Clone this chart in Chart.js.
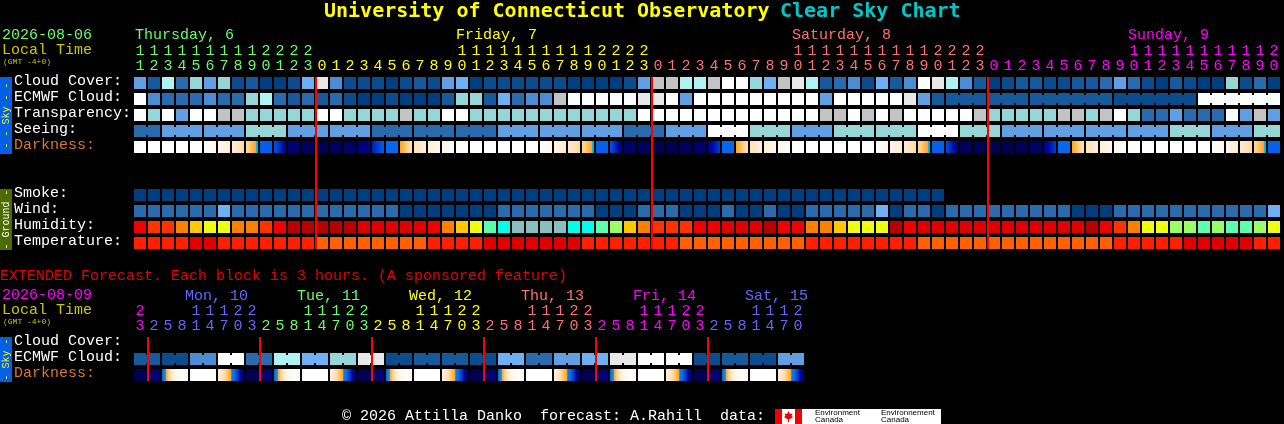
<!DOCTYPE html>
<html><head><meta charset="utf-8">
<style>html,body{margin:0;padding:0;background:#000;overflow:hidden}canvas{display:block}</style>
<script src="https://cdn.jsdelivr.net/npm/chart.js@4"></script>
</head><body><canvas id="c" width="1284" height="424"></canvas>
<script>
// ---- hour axes ----
const mainHours=[11,12,13,14,15,16,17,18,19,20,21,22,23,
0,1,2,3,4,5,6,7,8,9,10,11,12,13,14,15,16,17,18,19,20,21,22,23,
0,1,2,3,4,5,6,7,8,9,10,11,12,13,14,15,16,17,18,19,20,21,22,23,
0,1,2,3,4,5,6,7,8,9,10,11,12,13,14,15,16,17,18,19,20];
const extHours=[23,2,5,8,11,14,17,20,23,2,5,8,11,14,17,20,23,2,5,8,11,14,17,20,23,2,5,8,11,14,17,20,23,2,5,8,11,14,17,20,23,2,5,8,11,14,17,20];
const dayBreaks=[13,37,61];
const extDayBreaks=[1,9,17,25,33,41];
// ---- sky rows, as class numbers of the sky palette ----
const cloudCover=[5,2,8,3,7,5,7,1,2,0,0,1,6,10,4,1,1,1,0,1,2,
1,5,6,0,1,1,1,1,1,1,0,0,0,0,1,5,
9,9,8,8,9,11,11,7,6,9,10,8,2,3,4,
1,6,2,4,11,10,8,4,2,
0,1,2,2,1,1,2,2,3,5,3,1,0,2,1,0,0,7,1,3,0];
const ecmwfCloud=[11,4,3,3,3,4,3,3,7,8,3,2,3,2,3,1,0,0,1,0,0,
0,2,7,7,2,6,3,4,4,9,11,11,11,11,11,10,
10,11,5,11,11,11,11,11,11,11,11,11,5,11,11,
11,11,11,10,5,2,
2,2,2,2,2,2,2,2,2,2,2,2,1,1,1,1,1,1,11,11,11,11,11,11];
const ecmwfSpans=[1,1,1,1,1,1,1,1,1,1,1,1,1,1,1,1,1,1,1,1,1,1,1,1,1,1,1,1,1,1,1,1,1,1,1,1,1,1,1,1,1,1,1,1,1,1,1,1,1,1,1,1,1,1,1,1,1,1,3,3,6,6,6];
const transparency=[11,7,11,5,11,11,9,9,7,7,7,7,7,11,11,7,7,7,7,9,7,
7,11,11,7,7,7,7,7,7,7,7,7,7,7,7,
11,11,11,11,11,11,11,11,11,11,11,11,11,9,9,11,
9,11,9,11,11,11,11,11,9,
7,7,7,7,7,9,9,7,9,11,7,3,3,5,3,3,3,11,5,9,5];
const seeingLevels=[3,5,5,7,5,5,3,3,3,5,5,5,3,5,11,7,5,7,7,11,7,5,5,5,5,7,5,7];
const seeingSpans=[2,3,3,3,3,3,3,3,3,3,3,3,3,3,3,3,3,3,3,3,3,3,3,3,3,3,3,2];
const darknessStart=[0,0,0,0,0,0,1,2,3.5,7.4,7.8,11.5,12.5,13,12.5,12,11.3,9.5,7,5.2,3,2,1,
0,0,0,0,0,0,0,1,2.5,3.5,7.3,7.8,12,12.5,13,13,12.5,12,11,7,5.2,3,2,1,
0,0,0,0,0,0,0,1,2.3,3.5,7.3,8,12.5,12.7,13,13,12.7,12.3,11,7,5.2,3,2,1,
0,0,0,0,0,0,0,1,2.3,3.5,7.3];
const darknessEnd=[0,0,0,0,0,1,2,3.5,5.4,7.4,10.5,12,12.5,13,12.5,12,11.3,7.5,7,3,2,1,0.3,
0,0,0,0,0,0,1,2.5,3.5,5.4,7.3,11,12,12.5,13,13,12.5,12,8.5,7,3,2,1,0.3,
0,0,0,0,0,0,1,2.3,3.4,5.4,7.3,11,12.5,12.7,13,13,12.7,12.3,8.5,7,3,2,1,0.3,
0,0,0,0,0,0,1,2.3,3.4,5.4,7.3];
// ---- ground rows ----
const smoke=[0,0,0,0,0,0,0,0,0,0,0,0,0,0,0,0,0,0,0,0,0,0,0,0,0,0,0,0,0,0,0,0,0,0,0,0,0,0,0,0,0,0,0,0,0,0,0,0,0,0,0,0,0,0,0,0,0,0];
const wind=[3,3,3,3,3,3,6,3,3,3,3,3,3,3,3,3,3,3,3,0,0,0,0,0,0,0,3,3,3,3,3,3,3,0,0,0,3,3,3,0,0,0,3,0,0,3,0,0,3,3,3,3,3,6,0,3,3,0,3,3,3,3,3,3,3,3,3,0,0,0,3,3,3,3,3,3,3,3,3,3,3,6];
const humidity=[90,85,85,80,75,70,70,80,80,85,90,100,100,100,100,100,95,95,95,95,95,90,
80,75,70,60,55,50,50,50,50,55,55,60,65,75,80,85,85,85,90,90,95,95,95,100,90,90,80,80,75,70,70,70,
100,90,95,95,95,95,95,95,95,95,95,95,95,95,100,90,85,80,70,70,65,65,60,65,60,60,65,70];
const temperature=[25,25,25,25,30,30,25,25,25,25,25,25,25,20,20,20,20,20,20,20,20,25,25,25,25,30,30,30,30,30,30,30,25,25,25,25,25,25,25,
20,20,20,20,20,20,20,20,20,25,25,25,25,25,25,25,25,20,20,20,20,20,20,20,20,20,20,20,20,20,20,25,25,25,25,25,30,30,30,30,30,25,25];
// ---- extended rows: one value per pair of columns ----
const extEcmwf=[2,1,4,11,3,8,6,7,10,1,2,2,1,6,3,5,6,10,11,11,1,2,1,5];
const extDarkLeft=[13,7,0,1.5,13,7,0,1.5,13,7,0,1.5,13,7,0,1.5,13,7,0,1.5,13,7,0,1.5];
const extDarkMid=[13,1,0,5.2,13,1,0,5.2,13,1,0,5.2,13,1,0,5.2,13,1,0,5.2,13,1,0,5.2];
const extDarkRight=[11,0,0,12,11,0,0,12,11,0,0,12,11,0,0,12,11,0,0,12,11,0,0,12];
// ---- palettes and text ----
const skyPalette=['#003f7f','#0c4c8c','#175a9c','#2a6bae','#4c8cd2','#5f9fe2','#6fb0f5','#96d6d6','#aef2f2','#c3c3c3','#e8e8e8','#ffffff'];
const humidityPalette={50:'#88c0c0',55:'#00ffe8',60:'#5cffb0',65:'#99ff66',70:'#eeff10',75:'#ffc800',80:'#ff8000',85:'#ff3300',90:'#f00000',95:'#e00000',100:'#b80000'};
const temperaturePalette={20:'#ff6000',25:'#ff2000',30:'#e00000'};
const warmStops=['#ffffff','#fff6ea','#ffeed6','#ffe2b8','#ffcd80','#ffa726'];
const coolStops={5:'#00c8e0',6:'#0a78f0',7:'#0868ec',8:'#0050e0',9:'#0030c0',10:'#0008a0',11:'#000088',12:'#000068',13:'#000050'};
const C={green:'#66ff66',yellow:'#ffff00',salmon:'#ff7070',magenta:'#ff00ff',blue:'#6666ff',olive:'#c8c800',cyan:'#00c8c8',white:'#ffffff',orange:'#d87830',red:'#e80000'};
const mainHourColors=mainHours.map((_,i)=>i<13?C.green:i<37?C.yellow:i<61?C.salmon:C.magenta);
const extHourColors=extHours.map((_,i)=>i<1?C.magenta:i<9?C.blue:i<17?C.green:i<25?C.yellow:i<33?C.salmon:i<41?C.magenta:C.blue);
const rowNames=['Cloud Cover:','ECMWF Cloud:','Transparency:','Seeing:','Darkness:','Smoke:','Wind:','Humidity:','Temperature:','Cloud Cover:','ECMWF Cloud:','Darkness:'];
const rowPos=[0,1,2,3,4,7,8,9,10,16.25,17.25,18.25];
const R={cloud:0,ecmwf:1,trans:2,seeing:3,dark:4,smoke:7,wind:8,hum:9,temp:10,xCloud:16.25,xEcmwf:17.25,xDark:18.25};
const MONO='"Liberation Mono",monospace';
const texts=[
 ['University of Connecticut Observatory',324,12,'bold 20px "DejaVu Sans Mono"',C.yellow],
 ['Clear Sky Chart',780,12,'bold 20px "DejaVu Sans Mono"',C.cyan],
 ['2026-08-06',2,35,'15px '+MONO,C.green],['Local Time',2,50,'15px '+MONO,C.olive],['(GMT -4+0)',3,62,'8px '+MONO,C.olive],
 ['Thursday, 6',135,35,'15px '+MONO,C.green],['Friday, 7',456,35,'15px '+MONO,C.yellow],['Saturday, 8',792,35,'15px '+MONO,C.salmon],['Sunday, 9',1128,35,'15px '+MONO,C.magenta],
 ['EXTENDED Forecast. Each block is 3 hours. (A sponsored feature)',0,276,'15px '+MONO,C.red],
 ['2026-08-09',2,295,'15px '+MONO,C.magenta],['Local Time',2,310,'15px '+MONO,C.olive],['(GMT -4+0)',3,322,'8px '+MONO,C.olive],
 ['Mon, 10',185,296,'15px '+MONO,C.blue],['Tue, 11',297,296,'15px '+MONO,C.green],['Wed, 12',409,296,'15px '+MONO,C.yellow],['Thu, 13',521,296,'15px '+MONO,C.salmon],['Fri, 14',633,296,'15px '+MONO,C.magenta],['Sat, 15',745,296,'15px '+MONO,C.blue],
 ['\u00a9 2026 Attilla Danko  forecast: A.Rahill  data:',342,416,'15px '+MONO,C.white]
];
const sideBars=[[77,154,'#0060e8','- - Sky - -',C.yellow],[189,250,'#4e6b00','- Ground -',C.white],[337,382,'#0060e8','- Sky -',C.yellow]];
// ---- helpers ----
const half=0.375, notch=0.25;
function hex(h){return [parseInt(h.slice(1,3),16),parseInt(h.slice(3,5),16),parseInt(h.slice(5,7),16)];}
function mix(a,b,t){const A=hex(a),B=hex(b);return 'rgb('+A.map((v,i)=>Math.round(v+(B[i]-v)*t)).join(',')+')';}
function darkColor(d){
 if(d<5){const f=Math.floor(d);return mix(warmStops[f],warmStops[f+1],d-f);}
 if(d<5.15)return warmStops[5];
 const c=Math.max(5,d),f=Math.min(12,Math.floor(c));return mix(coolStops[f],coolStops[f+1],c-f);
}
function rowData(values,row){return values.map((v,i)=>({x:i,y:[row-half,row+half]}));}
function bridges(spans,row,offset){const out=[];let c=offset||0;spans.forEach(s=>{for(let k=0;k<s-1;k++)out.push({x:c+k+0.5,y:[row-notch,row+notch]});c+=s;});return out;}
function expand(levels,spans){const out=[];levels.forEach((v,i)=>{for(let k=0;k<spans[i];k++)out.push(v);});return out;}
function bar(data,color,xAxisID,thick){return {type:'bar',data,backgroundColor:color,xAxisID:xAxisID||'x',yAxisID:'y',barThickness:thick||12,inflateAmount:0,borderWidth:0};}
const seeing=expand(seeingLevels,seeingSpans);
const skyCol=a=>a.map(v=>skyPalette[v]);
function firstSpanColor(levels,spans){const out=[];levels.forEach((v,i)=>{for(let k=0;k<spans[i]-1;k++)out.push(skyPalette[v]);});return out;}
function ecmwfBridgeColors(){const out=[];let c=0;ecmwfSpans.forEach(s=>{for(let k=0;k<s-1;k++)out.push(skyPalette[ecmwfCloud[c+k]]);c+=s;});return out;}
function gradFor(chart,px,w,fn){if(!isFinite(px))return '#000';const g=chart.ctx.createLinearGradient(px-w/2,0,px+w/2,0);for(let p=0;p<w;p++){const col=fn((p+0.5)/w);g.addColorStop(p/w,col);g.addColorStop((p+1)/w,col);}return g;}
const darkFill=ctx=>{const i=ctx.dataIndex,c=ctx.chart;if(i===undefined||!c.scales.x)return '#000';return gradFor(c,c.scales.x.getPixelForValue(i),12,t=>darkColor(darknessStart[i]+(darknessEnd[i]-darknessStart[i])*t));};
const extDarkFill=ctx=>{const i=ctx.dataIndex,c=ctx.chart;if(i===undefined||!c.scales.x2)return '#000';return gradFor(c,c.scales.x2.getPixelForValue(i*2+0.5),26,t=>{const a=t<0.5?extDarkLeft[i]:extDarkMid[i],b=t<0.5?extDarkMid[i]:extDarkRight[i],u=t<0.5?t*2:(t-0.5)*2;return darkColor(a+(b-a)*u);});};
const extColPairs=extEcmwf.flatMap(v=>[v,v]);
const extSpans=extEcmwf.map(()=>2);
const textPlugin={id:'csc',
 beforeDraw(ch){const x=ch.ctx;x.save();x.fillStyle='#000';x.fillRect(0,0,ch.width,ch.height);x.restore();},
 afterDraw(ch){const x=ch.ctx;x.save();x.textBaseline='middle';x.textAlign='left';
  texts.forEach(t=>{x.font=t[3];x.fillStyle=t[4];x.fillText(t[0],t[1],t[2]);});
  sideBars.forEach(s=>{x.fillStyle=s[2];x.fillRect(0,s[0],12,s[1]-s[0]);x.save();x.translate(6,(s[0]+s[1])/2);x.rotate(-Math.PI/2);x.textAlign='center';x.font='10px '+MONO;x.fillStyle=s[4];x.fillText(s[3],0,0);x.restore();});
  // data credit logo
  x.fillStyle='#fff';x.fillRect(775,409,166,15);x.fillStyle='#f00000';x.fillRect(775,409,7,15);x.fillRect(795,409,7,15);
  x.beginPath();[[788.5,411],[790,414],[792.5,413.5],[791.5,416],[793,417],[790,419],[789,419],[789,422],[788,422],[788,419],[787,419],[784,417],[785.5,416],[784.5,413.5],[787,414]].forEach((p,i)=>i?x.lineTo(p[0],p[1]):x.moveTo(p[0],p[1]));x.closePath();x.fill();
  x.save();x.beginPath();x.rect(775,409,166,15);x.clip();x.fillStyle='#000';x.font='8px "Liberation Sans"';
  x.fillText('Environment',815,413);x.fillText('Canada',815,420);x.fillText('Environnement',881,413);x.fillText('Canada',881,420);x.restore();
  x.restore();}
};
const xMin=-10,xMax=(1284-140)/14,yMin=-83/16,yMax=(424-83)/16;
const noPad=s=>{s.paddingTop=0;s.paddingBottom=0;s.paddingLeft=0;s.paddingRight=0;};
function hourAxis(hours,colors,yVal){return {type:'linear',axis:'x',offset:false,min:xMin,max:xMax,position:{y:yVal},
  afterBuildTicks:s=>{s.ticks=hours.map((_,i)=>({value:i}));},
  afterFit:noPad,
  grid:{display:false,drawTicks:false,offset:false},border:{display:false},
  ticks:{autoSkip:false,maxRotation:0,minRotation:0,padding:0,font:{family:'Liberation Mono',size:15,lineHeight:1},
   color:ctx=>colors[ctx.index],callback:(v,i)=>{const h=hours[i];return [h>=10?String(Math.floor(h/10)):' ',String(h%10)];}}};}
new Chart(document.getElementById('c'),{
 data:{datasets:[
  bar(dayBreaks.map(i=>({x:i-6/14,y:[R.cloud-half,R.temp+half]})),'#ff0000','x',2),
  bar(extDayBreaks.map(i=>({x:i-6/14,y:[R.xCloud-half,R.xDark+half]})),'#ff0000','x2',2),
  bar(rowData(cloudCover,R.cloud),skyCol(cloudCover)),
  bar(rowData(ecmwfCloud,R.ecmwf),skyCol(ecmwfCloud)),
  bar(bridges(ecmwfSpans,R.ecmwf),ecmwfBridgeColors(),'x',2),
  bar(rowData(transparency,R.trans),skyCol(transparency)),
  bar(rowData(seeing,R.seeing),skyCol(seeing)),
  bar(bridges(seeingSpans,R.seeing),firstSpanColor(seeingLevels,seeingSpans),'x',2),
  bar(rowData(darknessStart,R.dark),darkFill),
  bar(rowData(smoke,R.smoke),skyCol(smoke)),
  bar(rowData(wind,R.wind),skyCol(wind)),
  bar(rowData(humidity,R.hum),humidity.map(v=>humidityPalette[v])),
  bar(rowData(temperature,R.temp),temperature.map(v=>temperaturePalette[v])),
  bar(rowData(extColPairs,R.xEcmwf),skyCol(extColPairs),'x2'),
  bar(bridges(extSpans,R.xEcmwf),skyCol(extEcmwf),'x2',2),
  bar(extDarkLeft.map((v,i)=>({x:i*2+0.5,y:[R.xDark-half,R.xDark+half]})),extDarkFill,'x2',26)
 ]},
 options:{responsive:false,animation:false,devicePixelRatio:1,
  layout:{padding:0},
  datasets:{bar:{grouped:false}},
  plugins:{legend:{display:false},title:{display:false},tooltip:{enabled:false}},
  events:[],
  scales:{
   x:hourAxis(mainHours,mainHourColors,(43.5-83)/16),
   x2:hourAxis(extHours,extHourColors,(303.5-83)/16),
   y:{type:'linear',reverse:true,min:yMin,max:yMax,position:'left',
    afterBuildTicks:s=>{s.ticks=rowPos.map(v=>({value:v-0.125}));},
    afterFit:s=>{s.width=0;noPad(s);},
    grid:{display:false,drawTicks:false},border:{display:false},
    ticks:{mirror:true,padding:14,autoSkip:false,font:{family:'Liberation Mono',size:15},
     color:ctx=>rowNames[ctx.index]==='Darkness:'?C.orange:C.white,
     callback:(v,i)=>rowNames[i]}}
  }
 },
 plugins:[textPlugin]
});
</script></body></html>
